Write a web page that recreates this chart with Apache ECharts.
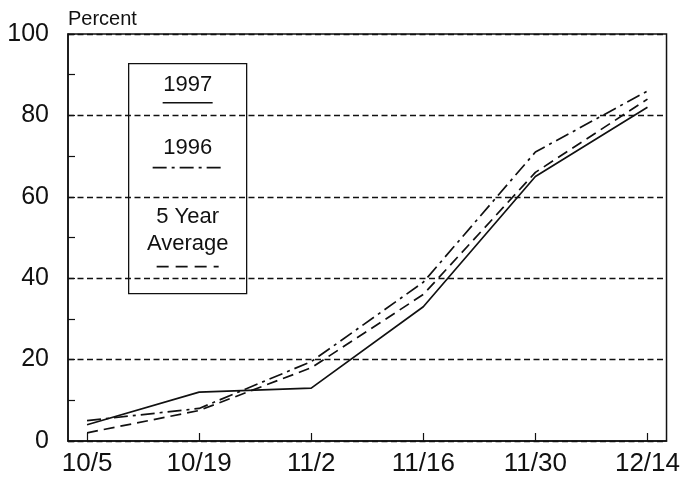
<!DOCTYPE html>
<html>
<head>
<meta charset="utf-8">
<script src="https://cdn.jsdelivr.net/npm/echarts@6/dist/echarts.min.js"></script>
<style>
html, body { margin: 0; padding: 0; background: #fff; }
#chart { width: 683px; height: 481px; }
</style>
</head>
<body>
<div id="chart"></div>
<script>
// dates, two weeks apart
const dates = ['10/5', '10/19', '11/2', '11/16', '11/30', '12/14']
// percent planted
const y1997 = [4, 12, 13, 33, 65, 82]
const y1996 = [5, 8, 19.5, 39, 71, 86]
const avg5 = [2, 7.5, 18, 36, 66, 84]
const yTicks = [0, 20, 40, 60, 80, 100]

const font = '"Liberation Sans", Arial, Helvetica, sans-serif'
const ink = '#111'

function pairs (vals) {
  return vals.map((v, i) => [i, v])
}

let myChart = echarts.init(document.getElementById('chart'))
myChart.setOption({
  backgroundColor: '#fff',
  animation: false,
  textStyle: { fontFamily: font, color: ink },
  title: {
    text: 'Percent',
    left: 68,
    top: 9,
    padding: 0,
    textStyle: { fontSize: 20, fontWeight: 'normal', color: ink, fontFamily: font }
  },
  grid: {
    left: 68, right: 11, top: 34, bottom: 40,
    show: true, borderColor: ink, borderWidth: 1.5, backgroundColor: 'transparent'
  },
  xAxis: {
    type: 'value',
    min: -0.17,
    max: 5.17,
    axisLine: { onZero: false, lineStyle: { color: ink, width: 1.5 } },
    axisTick: { inside: true, length: 8, customValues: dates.map((d, i) => i), lineStyle: { color: ink, width: 1.2 } },
    axisLabel: {
      customValues: dates.map((d, i) => i),
      formatter: v => dates[Math.round(v)],
      fontSize: 26, color: ink, margin: 10, fontFamily: font
    },
    splitLine: { show: false }
  },
  yAxis: {
    type: 'value',
    min: yTicks[0],
    max: yTicks[yTicks.length - 1],
    interval: 20,
    axisLine: { show: true, onZero: false, lineStyle: { color: ink, width: 1.5 } },
    axisTick: { inside: true, length: 7, lineStyle: { color: ink, width: 1.2 } },
    minorTick: { show: true, splitNumber: 2, length: 7, lineStyle: { color: ink, width: 1.2 } },
    axisLabel: { fontSize: 25, color: ink, margin: 19, fontFamily: font },
    splitLine: { show: true, lineStyle: { color: ink, width: 1.3, type: [6, 3.5] } }
  },
  series: [
    {
      name: '1997', type: 'line', data: pairs(y1997), showSymbol: false,
      lineStyle: { color: ink, width: 1.7, type: 'solid' }
    },
    {
      name: '1996', type: 'line', data: pairs(y1996), showSymbol: false,
      lineStyle: { color: ink, width: 1.7, type: [14, 5, 3, 5] }
    },
    {
      name: '5 Year Average', type: 'line', data: pairs(avg5), showSymbol: false,
      lineStyle: { color: ink, width: 1.7, type: [11, 6] }
    }
  ],
  // legend box drawn by hand: label sits above its line sample
  graphic: [
    {
      type: 'group', left: 128, top: 63, z: 100,
      children: [
        { type: 'rect', shape: { x: 0, y: 0, width: 118, height: 230 }, style: { fill: '#fff', stroke: ink, lineWidth: 1.3 } },
        { type: 'text', x: 59, y: 21, style: { text: '1997', fontSize: 22, fontFamily: font, fill: ink, align: 'center', verticalAlign: 'middle' } },
        { type: 'line', shape: { x1: 34, y1: 39, x2: 84, y2: 39 }, style: { stroke: ink, lineWidth: 1.5 } },
        { type: 'text', x: 59, y: 84, style: { text: '1996', fontSize: 22, fontFamily: font, fill: ink, align: 'center', verticalAlign: 'middle' } },
        { type: 'line', shape: { x1: 24, y1: 104, x2: 94, y2: 104 }, style: { stroke: ink, lineWidth: 1.6, lineDash: [14, 5, 3, 5] } },
        { type: 'text', x: 59, y: 153, style: { text: '5 Year', fontSize: 22, fontFamily: font, fill: ink, align: 'center', verticalAlign: 'middle' } },
        { type: 'text', x: 59, y: 180, style: { text: 'Average', fontSize: 22, fontFamily: font, fill: ink, align: 'center', verticalAlign: 'middle' } },
        { type: 'line', shape: { x1: 28, y1: 203, x2: 90, y2: 203 }, style: { stroke: ink, lineWidth: 1.6, lineDash: [12, 7] } }
      ]
    }
  ]
})
</script>
</body>
</html>
